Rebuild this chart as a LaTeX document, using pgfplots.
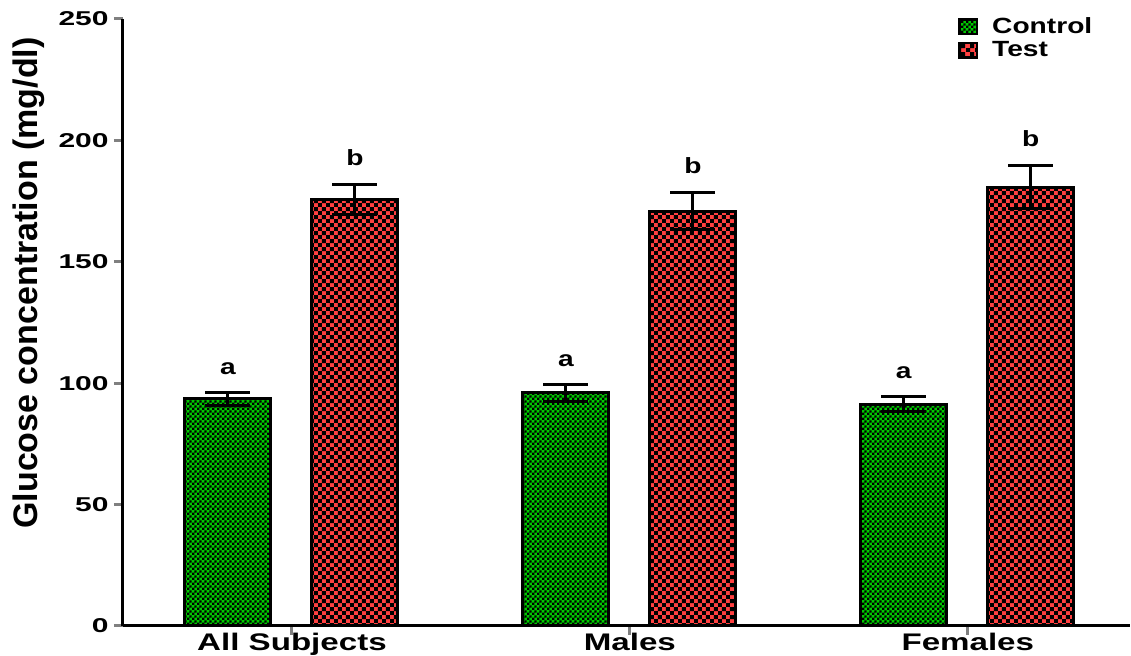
\documentclass[border=0pt]{standalone}
\usepackage{pgfplots}
\pgfplotsset{compat=1.18}
\usepackage{fontspec}
\setmainfont{Liberation Sans}
\newfontfamily\ytfont{Liberation Sans}[FakeStretch=1.5]
\newfontfamily\xtfont{Liberation Sans}[FakeStretch=1.38]
\newfontfamily\lgfont{Liberation Sans}[FakeStretch=1.28]
\usetikzlibrary{patterns}
\definecolor{ctrlgreen}{RGB}{0,200,0}
\definecolor{testred}{RGB}{255,64,64}
\pgfdeclarepatternformonly{checkR}{\pgfpointorigin}{\pgfpoint{4.2pt}{4.2pt}}{\pgfpoint{4.2pt}{4.2pt}}{%
  \pgfpathrectangle{\pgfpointorigin}{\pgfpoint{2.1pt}{2.1pt}}%
  \pgfpathrectangle{\pgfpoint{2.1pt}{2.1pt}}{\pgfpoint{2.1pt}{2.1pt}}%
  \pgfusepath{fill}}
\pgfdeclarepatternformonly{checkG}{\pgfpointorigin}{\pgfpoint{2.6pt}{2.6pt}}{\pgfpoint{2.6pt}{2.6pt}}{%
  \pgfpathrectangle{\pgfpointorigin}{\pgfpoint{1.3pt}{1.3pt}}%
  \pgfpathrectangle{\pgfpoint{1.3pt}{1.3pt}}{\pgfpoint{1.3pt}{1.3pt}}%
  \pgfusepath{fill}}
\begin{document}
\begin{tikzpicture}
\begin{axis}[
  name=ax,
  scale only axis,
  width=503.5pt, height=303.5pt,
  xmin=-0.5, xmax=2.48,
  ymin=0, ymax=250,
  clip=false,
  axis x line*=bottom, axis y line*=left,
  axis line style={line width=1.5pt},
  xtick={0,1,2},
  xticklabels={All Subjects, Males, Females},
  ytick={0,50,100,150,200,250},
  yticklabels={0,50,100,150,200,250},
  tick align=outside,
  major tick length=4.5pt,
  x tick style={line width=1.5pt},
  y tick style={line width=1.5pt},
  xticklabel style={font=\xtfont\bfseries\fontsize{12}{12}\selectfont, inner sep=0pt, yshift=1pt},
  yticklabel style={font=\ytfont\bfseries\fontsize{10}{10}\selectfont, inner sep=0pt, xshift=-2.5pt},
  every axis y label/.style={at={(axis description cs:-0.0933,0.565)}, rotate=90, anchor=center,
     font=\bfseries\fontsize{17}{17}\selectfont},
  ylabel={Glucose concentration (mg/dl)},
  legend style={at={(axis description cs:0.829,1.01)}, anchor=north west, draw=none, fill=none,
     font=\lgfont\bfseries\fontsize{11}{11}\selectfont, inner sep=0pt, row sep=-1.5pt,
     /tikz/every even column/.append style={column sep=0pt}},
  legend cell align=left,
  legend image code/.code={\draw[#1, line width=1.2pt] (0pt,-3.6pt) rectangle (8.8pt,3.6pt);},
  error bars/error bar style={line width=1.5pt, black},
  error bars/error mark options={rotate=90, mark size=11.25pt, line width=1.5pt, black},
]
\addplot[ybar, bar width=43pt, bar shift=0pt, draw=black, line width=1.5pt,
  fill=ctrlgreen, postaction={pattern=checkG, pattern color=black},
  error bars/.cd, y dir=both, y explicit]
  coordinates {(-0.1894,93.5) +- (0,2.5) (0.8106,96.0) +- (0,3.4) (1.8106,91.4) +- (0,3.0)};
\addlegendentry{\hspace{5pt}Control}
\addplot[ybar, bar width=43pt, bar shift=0pt, draw=black, line width=1.5pt,
  fill=testred, postaction={pattern=checkR, pattern color=black},
  error bars/.cd, y dir=both, y explicit]
  coordinates {(0.1864,175.7) +- (0,6.3) (1.1864,170.9) +- (0,7.8) (2.1864,180.8) +- (0,9.0)};
\addlegendentry{\hspace{5pt}Test}
\addplot[draw=none, forget plot, nodes near coords, point meta=explicit symbolic,
  every node near coord/.append style={anchor=south, yshift=9pt,
    font=\lgfont\bfseries\fontsize{11}{11}\selectfont, inner sep=0pt}]
  coordinates {(-0.1894,96.0) [a] (0.8106,99.4) [a] (1.8106,94.4) [a]};
\addplot[draw=none, forget plot, nodes near coords, point meta=explicit symbolic,
  every node near coord/.append style={anchor=south, yshift=9pt,
    font=\lgfont\bfseries\fontsize{11}{11}\selectfont, inner sep=0pt}]
  coordinates {(0.1864,182.0) [b] (1.1864,178.7) [b] (2.1864,189.8) [b]};
\end{axis}
\pgfresetboundingbox
\path[use as bounding box] ([shift={(-61.5pt,-15pt)}]ax.south west) rectangle ([shift={(504pt,313pt)}]ax.south west);
\end{tikzpicture}
\end{document}
